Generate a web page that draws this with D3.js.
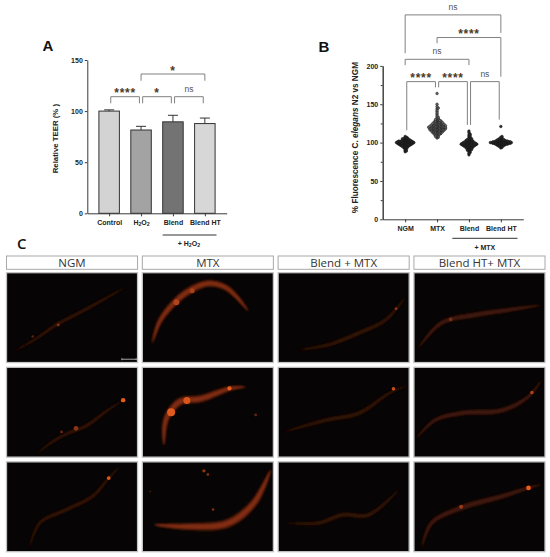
<!DOCTYPE html>
<html>
<head>
<meta charset="utf-8">
<script src="https://cdn.jsdelivr.net/npm/d3@7"></script>
<style>
  body { margin: 0; background: #fff; }
  svg { display: block; }
  text { font-family: "Liberation Sans", Arial, sans-serif; }
</style>
</head>
<body>
<svg id="fig"></svg>
<script>
// ---- Panel A : relative TEER ----
const teerCats = ['Control', 'H2O2', 'Blend', 'Blend HT'];
const teerMeans = [100, 81.5, 89.5, 87.8];
const teerErrs = [1.2, 3.6, 6.4, 5.4];
const teerColors = ['#d3d3d3', '#a3a3a3', '#737373', '#d7d7d7'];
const teerTicks = [0, 50, 100, 150];
const teerSig = [
    { a: 'Control', b: 'H2O2', y: 114.1, legs: [107.6, 107.6], label: '****' },
    { a: 'H2O2', b: 'Blend', y: 114.1, legs: [107.6, 107.6], label: '*' },
    { a: 'Blend', b: 'Blend HT', y: 114.1, legs: [107.6, 107.6], label: 'ns' },
    { a: 'H2O2', b: 'Blend HT', y: 136.3, legs: [129.7, 129.7], label: '*' }
];

// ---- Panel B : fluorescence, one value per worm ----
const fluorCats = ['NGM', 'MTX', 'Blend', 'Blend HT'];
const ngmVals = [88, 89, 90, 91, 92, 93, 93, 94, 94, 95, 95, 95, 96, 96, 96, 96, 97, 97, 97, 97, 97,
    98, 98, 98, 98, 98, 98, 99, 99, 99, 99, 99, 99, 99, 100, 100, 100, 100, 100, 100, 100, 100,
    101, 101, 101, 101, 101, 101, 101, 102, 102, 102, 102, 102, 102, 103, 103, 103, 103, 104, 104,
    104, 105, 105, 105, 106, 106, 107, 108];
const mtxVals = [106, 107, 108, 108, 109, 110, 110, 111, 111, 111, 112, 112, 112, 113, 113, 113, 113,
    114, 114, 114, 114, 115, 115, 115, 115, 115, 116, 116, 116, 116, 116, 117, 117, 117, 117, 117, 117,
    118, 118, 118, 118, 118, 118, 119, 119, 119, 119, 119, 119, 120, 120, 120, 120, 120, 120, 120,
    121, 121, 121, 121, 121, 121, 122, 122, 122, 122, 122, 122, 123, 123, 123, 123, 123, 124, 124,
    124, 124, 124, 125, 125, 125, 125, 126, 126, 126, 126, 127, 127, 127, 128, 128, 128, 129, 129,
    130, 130, 131, 132, 133, 134, 136, 138, 140, 142, 144, 145, 147, 150, 164];
const blendVals = [84, 86, 87, 88, 89, 90, 90, 91, 91, 92, 92, 93, 93, 93, 94, 94, 94, 95, 95, 95,
    95, 96, 96, 96, 96, 96, 97, 97, 97, 97, 97, 97, 98, 98, 98, 98, 98, 98, 98, 99, 99, 99, 99, 99,
    99, 100, 100, 100, 100, 100, 101, 101, 101, 101, 102, 102, 102, 103, 103, 103, 104, 104, 105,
    105, 106, 107, 108, 109, 110, 111, 113, 115];
const blendHtVals = [93, 94, 95, 95, 96, 96, 96, 97, 97, 97, 97, 98, 98, 98, 98, 98, 98, 99, 99,
    99, 99, 99, 99, 99, 99, 100, 100, 100, 100, 100, 100, 100, 100, 100, 101, 101, 101, 101, 101,
    101, 101, 101, 102, 102, 102, 102, 102, 102, 103, 103, 103, 103, 104, 104, 104, 105, 105, 106,
    107, 108, 121];
const fluorMajor = [0, 50, 100, 150, 200];
const fluorMinor = [25, 75, 125, 175];
const fluorSig = [
    { a: 'NGM', b: 'MTX', y: 179.5, legs: [116, 172], label: '****' },
    { a: 'MTX', b: 'Blend', y: 179.5, legs: [172, 123], label: '****' },
    { a: 'Blend', b: 'Blend HT', y: 179.5, legs: [123, 130], label: 'ns' },
    { a: 'NGM', b: 'Blend', y: 208.6, legs: [201, 201], label: 'ns' },
    { a: 'MTX', b: 'Blend HT', y: 237, legs: [229.6, 186], label: '****' },
    { a: 'NGM', b: 'Blend HT', y: 266.5, legs: [216.5, 243], label: 'ns' }
];

// ---- Panel C : micrographs (worm centrelines in 0..1 panel units) ----
const wormCols = ['NGM', 'MTX', 'Blend + MTX', 'Blend HT+ MTX'];
const wormBody = ['#240c05', '#5a1f0a', '#230c05', '#2c1007'];
const wormCore = ['#461a0c', '#983713', '#421a0c', '#52200e'];
const worms = [
    { col: 0, row: 0, w: 3.6, pts: [[0.064, 0.87], [0.22, 0.74], [0.38, 0.58], [0.55, 0.45], [0.714, 0.32], [0.913, 0.156]] },
    { col: 1, row: 0, w: 7, pts: [[0.076, 0.785], [0.13, 0.55], [0.24, 0.34], [0.36, 0.2], [0.5, 0.12], [0.63, 0.16], [0.72, 0.27], [0.81, 0.43]] },
    { col: 2, row: 0, w: 4.6, pts: [[0.158, 0.86], [0.39, 0.8], [0.617, 0.67], [0.82, 0.526], [0.974, 0.267]] },
    { col: 3, row: 0, w: 5.5, pts: [[0.033, 0.84], [0.21, 0.56], [0.466, 0.47], [0.72, 0.415], [0.975, 0.36]] },
    { col: 0, row: 1, w: 3.8, pts: [[0.23, 0.963], [0.35, 0.83], [0.46, 0.74], [0.61, 0.65], [0.77, 0.48], [0.89, 0.366]] },
    { col: 1, row: 1, w: 7.5, pts: [[0.165, 0.87], [0.17, 0.65], [0.2, 0.52], [0.29, 0.38], [0.445, 0.35], [0.674, 0.235], [0.79, 0.22]] },
    { col: 2, row: 1, w: 4.6, pts: [[0.043, 0.72], [0.36, 0.59], [0.617, 0.51], [0.847, 0.29], [0.987, 0.2]] },
    { col: 3, row: 1, w: 5.5, pts: [[0.02, 0.79], [0.16, 0.59], [0.365, 0.51], [0.67, 0.48], [0.87, 0.33], [0.975, 0.14]] },
    { col: 0, row: 2, w: 4.2, pts: [[0.173, 0.963], [0.255, 0.68], [0.46, 0.53], [0.66, 0.38], [0.78, 0.18], [0.867, 0.05]] },
    { col: 1, row: 2, w: 8.5, pts: [[0.089, 0.70], [0.344, 0.72], [0.65, 0.685], [0.85, 0.46], [0.98, 0.086]] },
    { col: 2, row: 2, w: 4.8, pts: [[0.069, 0.68], [0.31, 0.68], [0.49, 0.59], [0.69, 0.59], [0.92, 0.31]] },
    { col: 3, row: 2, w: 6, pts: [[0.059, 0.96], [0.135, 0.68], [0.365, 0.51], [0.67, 0.385], [0.874, 0.29], [0.975, 0.25]] }
];
const wormSpots = [
    { col: 0, row: 0, x: 0.395, y: 0.58, r: 1.6, c: '#7a2e12' },
    { col: 0, row: 0, x: 0.2, y: 0.71, r: 1.3, c: '#5a220e' },
    { col: 1, row: 0, x: 0.26, y: 0.33, r: 3, c: '#b0441a' },
    { col: 1, row: 0, x: 0.38, y: 0.2, r: 2.5, c: '#a84018' },
    { col: 0, row: 1, x: 0.89, y: 0.366, r: 2.2, c: '#e85c1e' },
    { col: 0, row: 1, x: 0.53, y: 0.68, r: 2.3, c: '#8a3414' },
    { col: 0, row: 1, x: 0.42, y: 0.72, r: 1.4, c: '#6a2810' },
    { col: 1, row: 1, x: 0.22, y: 0.5, r: 4, c: '#e05a1e' },
    { col: 1, row: 1, x: 0.34, y: 0.37, r: 3.5, c: '#d8561c' },
    { col: 1, row: 1, x: 0.665, y: 0.235, r: 2.1, c: '#e85c1e' },
    { col: 1, row: 1, x: 0.865, y: 0.53, r: 1.3, c: '#6a2810' },
    { col: 2, row: 1, x: 0.88, y: 0.24, r: 1.8, c: '#c84c1a' },
    { col: 3, row: 1, x: 0.9, y: 0.28, r: 1.7, c: '#b04418' },
    { col: 0, row: 2, x: 0.78, y: 0.18, r: 1.9, c: '#d8561c' },
    { col: 1, row: 2, x: 0.47, y: 0.1, r: 1.7, c: '#8a3414' },
    { col: 1, row: 2, x: 0.5, y: 0.14, r: 1.3, c: '#8a3414' },
    { col: 1, row: 2, x: 0.54, y: 0.53, r: 1.3, c: '#803012' },
    { col: 1, row: 2, x: 0.06, y: 0.33, r: 1.1, c: '#3e180a' },
    { col: 2, row: 0, x: 0.9, y: 0.4, r: 1.4, c: '#8a3414' },
    { col: 3, row: 0, x: 0.28, y: 0.52, r: 1.8, c: '#7a2e12' },
    { col: 3, row: 2, x: 0.874, y: 0.29, r: 2.4, c: '#e85c1e' },
    { col: 3, row: 2, x: 0.36, y: 0.5, r: 2, c: '#983a16' }
];
const scaleBar = { col: 0, row: 0, x0: 0.88, x1: 0.99, y: 0.963 };

const W = 550, H = 557;
const svg = d3.select('#fig').attr('width', W).attr('height', H);
const defs = svg.append('defs');
defs.append('filter').attr('id', 'blur').attr('x', '-20%').attr('y', '-20%').attr('width', '140%').attr('height', '140%')
    .append('feGaussianBlur').attr('stdDeviation', 1.1);
defs.append('filter').attr('id', 'blurS').attr('x', '-50%').attr('y', '-50%').attr('width', '200%').attr('height', '200%')
    .append('feGaussianBlur').attr('stdDeviation', 0.7);

const axisColor = '#3a3a3a';
const sigColor = '#4d3a1e';

function styleAxis(g) {
    g.selectAll('path, line').attr('stroke', axisColor).attr('stroke-width', 1);
    g.selectAll('text').attr('font-size', 7).attr('font-weight', 'bold').attr('fill', '#222');
}

// label with digits as subscripts (H2O2)
function subLabel(sel, str) {
    sel.text(null);
    let shift = 0;
    str.split(/(\d)/).filter(s => s.length).forEach(s => {
        const sub = /\d/.test(s);
        const dy = (sub ? 1.5 : 0) - shift;
        shift = sub ? 1.5 : 0;
        const t = sel.append('tspan').text(s);
        if (dy) t.attr('dy', dy);
        if (sub) t.attr('font-size', '75%');
    });
}

function drawBrackets(g, sig, x, y, cats) {
    sig.forEach(s => {
        const adjacent = Math.abs(cats.indexOf(s.a) - cats.indexOf(s.b)) === 1;
        const inset = adjacent ? 1.6 : 0;
        const x1 = x(s.a) + inset, x2 = x(s.b) - inset;
        g.append('path')
            .attr('d', `M${x1},${y(s.legs[0])}V${y(s.y)}H${x2}V${y(s.legs[1])}`)
            .attr('fill', 'none').attr('stroke', '#808080').attr('stroke-width', 1);
        const isStar = s.label.indexOf('*') >= 0;
        g.append('text')
            .attr('x', (x1 + x2) / 2)
            .attr('y', y(s.y) + (isStar ? 0.5 : -5))
            .attr('text-anchor', 'middle')
            .attr('font-size', isStar ? 12 : 8.5)
            .attr('font-weight', isStar ? 'bold' : 'normal')
            .attr('letter-spacing', isStar ? 0.7 : 0)
            .attr('fill', isStar ? sigColor : '#555')
            .text(s.label);
    });
}

// ================= Panel A =================
const yA = d3.scaleLinear().domain([0, 150]).range([213.3, 60]);
const xA = d3.scalePoint().domain(teerCats).range([87.3, 226.7]).padding(0.685);
const gA = svg.append('g');
const barW = 20.5;

gA.selectAll('rect.bar')
    .data(teerCats)
    .enter()
    .append('rect')
    .attr('x', d => xA(d) - barW / 2)
    .attr('y', (d, i) => yA(teerMeans[i]))
    .attr('width', barW)
    .attr('height', (d, i) => yA(0) - yA(teerMeans[i]))
    .attr('fill', (d, i) => teerColors[i])
    .attr('stroke', '#333')
    .attr('stroke-width', 1);

gA.selectAll('path.err')
    .data(teerCats)
    .enter()
    .append('path')
    .attr('d', (d, i) => {
        const top = yA(teerMeans[i] + teerErrs[i]);
        return `M${xA(d)},${yA(teerMeans[i])}V${top}M${xA(d) - 5},${top}H${xA(d) + 5}`;
    })
    .attr('stroke', '#333').attr('stroke-width', 1).attr('fill', 'none');

gA.append('g')
    .attr('transform', `translate(87.3,0)`)
    .call(d3.axisLeft(yA).tickValues(teerTicks).tickSize(2.5).tickPadding(2).tickSizeOuter(0))
    .call(styleAxis);

const xAxisA = gA.append('g')
    .attr('transform', `translate(0,${yA(0)})`)
    .call(d3.axisBottom(xA).tickSize(3).tickPadding(3.5).tickSizeOuter(0))
    .call(styleAxis);
xAxisA.selectAll('.tick text').each(function (d) { subLabel(d3.select(this), d); });

gA.append('line')
    .attr('x1', xA('Blend') - barW / 2).attr('x2', xA('Blend HT') + barW / 2 + 1.4)
    .attr('y1', 235).attr('y2', 235)
    .attr('stroke', '#333').attr('stroke-width', 1);
gA.append('text')
    .attr('x', (xA('Blend') + xA('Blend HT')) / 2).attr('y', 245.5)
    .attr('text-anchor', 'middle').attr('font-size', 7).attr('font-weight', 'bold').attr('fill', '#222')
    .call(t => subLabel(t, '+ H2O2'));

gA.append('text')
    .attr('transform', `translate(57.8,${(yA(0) + yA(150)) / 2 + 2}) rotate(-90)`)
    .attr('text-anchor', 'middle').attr('font-size', 7.8).attr('font-weight', 'bold').attr('fill', '#222')
    .text('Relative TEER (% )');

drawBrackets(gA, teerSig, xA, yA, teerCats);

svg.append('text').attr('x', 42.5).attr('y', 51).attr('font-size', 15).attr('font-weight', 'bold')
    .attr('fill', '#111').text('A');

// ================= Panel B =================
const yB = d3.scaleLinear().domain([0, 200]).range([219.3, 65.9]);
const xB = d3.scalePoint().domain(fluorCats).range([382.7, 523.3]).padding(0.704);
const gB = svg.append('g');

gB.append('g')
    .attr('transform', `translate(382.7,0)`)
    .call(d3.axisLeft(yB).tickValues(fluorMinor).tickSize(2).tickFormat('').tickSizeOuter(0))
    .call(styleAxis);
gB.append('g')
    .attr('transform', `translate(382.7,0)`)
    .call(d3.axisLeft(yB).tickValues(fluorMajor).tickSize(2.5).tickPadding(2).tickSizeOuter(0))
    .call(styleAxis);
gB.append('g')
    .attr('transform', `translate(0,${yB(0)})`)
    .call(d3.axisBottom(xB).tickSize(3).tickPadding(3.5).tickSizeOuter(0))
    .call(styleAxis);

gB.append('line')
    .attr('x1', xB('Blend') - 16.6).attr('x2', xB('Blend HT') + 16.7)
    .attr('y1', 238.3).attr('y2', 238.3)
    .attr('stroke', '#333').attr('stroke-width', 1);
gB.append('text')
    .attr('x', (xB('Blend') + xB('Blend HT')) / 2).attr('y', 250)
    .attr('text-anchor', 'middle').attr('font-size', 7).attr('font-weight', 'bold').attr('fill', '#222')
    .text('+ MTX');

const yTitleB = gB.append('text')
    .attr('transform', `translate(358,${(yB(0) + yB(200)) / 2 - 5}) rotate(-90)`)
    .attr('text-anchor', 'middle').attr('font-size', 8.2).attr('font-weight', 'bold').attr('fill', '#222');
yTitleB.append('tspan').text('% Fluorescence C. ');
yTitleB.append('tspan').attr('font-style', 'italic').text('elegans');
yTitleB.append('tspan').text(' N2 vs NGM');

// beeswarm layout: each point moved sideways until it no longer collides
function swarm(vals, minD) {
    const pts = [];
    vals.slice().sort((a, b) => a - b).forEach(v => {
        const y = yB(v);
        let best = 0;
        for (let k = 0; k < 300; k++) {
            const dx = (k % 2 ? 1 : -1) * Math.ceil(k / 2) * 0.3;
            if (pts.every(p => (p.dx - dx) ** 2 + (p.y - y) ** 2 >= minD * minD)) { best = dx; break; }
        }
        pts.push({ dx: best, y: y });
    });
    return pts;
}

const fluorGroups = [ngmVals, mtxVals, blendVals, blendHtVals];
fluorGroups.forEach((vals, i) => {
    const cx = xB(fluorCats[i]);
    gB.append('g').selectAll('circle')
        .data(swarm(vals, 1.42))
        .enter()
        .append('circle')
        .attr('cx', d => cx + d.dx)
        .attr('cy', d => d.y)
        .attr('r', 1.3)
        .attr('fill', i === 1 ? '#6a6a6a' : '#2a2a2a')
        .attr('stroke', '#141414')
        .attr('stroke-width', 0.5);
});

drawBrackets(gB, fluorSig, xB, yB, fluorCats);

svg.append('text').attr('x', 318.5).attr('y', 52).attr('font-size', 15).attr('font-weight', 'bold')
    .attr('fill', '#111').text('B');

// ================= Panel C =================
const colX = d3.scaleBand().domain(d3.range(4)).range([6.5, 545]).paddingInner(0.035);
const rowY = d3.scaleBand().domain(d3.range(3)).range([272.7, 551.7]).paddingInner(0.05);
const gC = svg.append('g');

svg.append('text').attr('x', 17).attr('y', 248.5).attr('font-size', 15).attr('font-weight', 600)
    .style('font-family', '"Open Sans", sans-serif').attr('fill', '#111').text('C');

wormCols.forEach((name, c) => {
    gC.append('rect')
        .attr('x', colX(c)).attr('y', 256).attr('width', colX.bandwidth()).attr('height', 13.3)
        .attr('fill', '#fff').attr('stroke', '#a8a8a8').attr('stroke-width', 1);
    gC.append('text')
        .attr('x', colX(c) + colX.bandwidth() / 2).attr('y', 266.8)
        .attr('text-anchor', 'middle').attr('font-size', 11.5)
        .style('font-family', '"Open Sans", sans-serif').attr('fill', '#333')
        .text(name);
});

function wormOutline(pts, maxW) {
    const tmp = gC.append('path').attr('d', d3.line().curve(d3.curveCatmullRom.alpha(0.5))(pts));
    const node = tmp.node();
    const L = node.getTotalLength();
    const N = 90, left = [], right = [];
    for (let i = 0; i <= N; i++) {
        const t = i / N;
        const p = node.getPointAtLength(t * L);
        const a = node.getPointAtLength(Math.max(0, t * L - 0.6));
        const b = node.getPointAtLength(Math.min(L, t * L + 0.6));
        let dx = b.x - a.x, dy = b.y - a.y;
        const len = Math.hypot(dx, dy) || 1;
        dx /= len; dy /= len;
        const w = maxW / 2 * Math.pow(Math.sin(Math.PI * t), 0.55);
        left.push([p.x - dy * w, p.y + dx * w]);
        right.push([p.x + dy * w, p.y - dx * w]);
    }
    tmp.remove();
    return d3.line().curve(d3.curveLinearClosed)(left.concat(right.reverse()));
}

d3.range(3).forEach(r => {
    d3.range(4).forEach(c => {
        const x0 = colX(c), y0 = rowY(r), bw = colX.bandwidth(), bh = rowY.bandwidth();
        const px = d3.scaleLinear().domain([0, 1]).range([x0, x0 + bw]);
        const py = d3.scaleLinear().domain([0, 1]).range([y0, y0 + bh]);
        const id = `clip${r}${c}`;
        defs.append('clipPath').attr('id', id)
            .append('rect').attr('x', x0).attr('y', y0).attr('width', bw).attr('height', bh);

        gC.append('rect')
            .attr('x', x0).attr('y', y0).attr('width', bw).attr('height', bh)
            .attr('fill', '#060404');

        const cell = gC.append('g').attr('clip-path', `url(#${id})`);
        worms.filter(d => d.col === c && d.row === r).forEach(d => {
            const p = d.pts.map(q => [px(q[0]), py(q[1])]);
            cell.append('path').attr('d', wormOutline(p, d.w))
                .attr('fill', wormBody[c]).attr('filter', 'url(#blur)');
            cell.append('path').attr('d', wormOutline(p, d.w * 0.5))
                .attr('fill', wormCore[c]).attr('opacity', 0.7).attr('filter', 'url(#blur)');
        });
        cell.selectAll('circle')
            .data(wormSpots.filter(d => d.col === c && d.row === r))
            .enter()
            .append('circle')
            .attr('cx', d => px(d.x)).attr('cy', d => py(d.y)).attr('r', d => d.r)
            .attr('fill', d => d.c).attr('filter', 'url(#blurS)');
        if (scaleBar.col === c && scaleBar.row === r) {
            cell.append('path')
                .attr('d', `M${px(scaleBar.x0)},${py(scaleBar.y) - 1}v2M${px(scaleBar.x0)},${py(scaleBar.y)}H${px(scaleBar.x1)}M${px(scaleBar.x1)},${py(scaleBar.y) - 1}v2`)
                .attr('stroke', '#cfcfcf').attr('stroke-width', 0.8).attr('fill', 'none');
        }
        gC.append('rect')
            .attr('x', x0).attr('y', y0).attr('width', bw).attr('height', bh)
            .attr('fill', 'none').attr('stroke', '#c4c4c4').attr('stroke-width', 1.3);
    });
});
</script>
</body>
</html>
